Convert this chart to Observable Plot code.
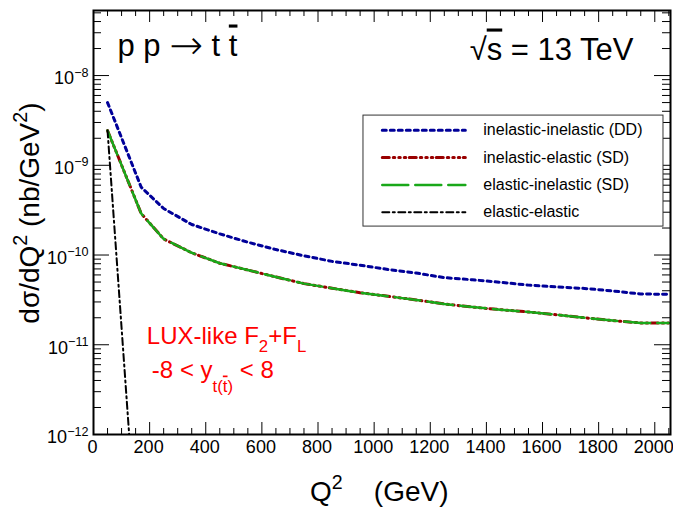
<!DOCTYPE html>
<html>
<head>
<meta charset="utf-8">
<script src="https://cdn.jsdelivr.net/npm/d3@7"></script>
<script src="https://cdn.jsdelivr.net/npm/@observablehq/plot@0.6"></script>
<style>
  body { margin: 0; background: #fff; }
  svg text, svg tspan { white-space: pre; }
</style>
</head>
<body>
<div id="chart"></div>
<script>
// Q^2 grid (GeV^2) of the calculated distributions
const q2 = [50, 170, 250, 350, 450, 550, 650, 750, 850, 950, 1050, 1150, 1250, 1350, 1450, 1550, 1650, 1750, 1850, 1950, 2050];
// dσ/dQ² in nb/GeV²
const inelasticInelastic = [5.0e-9, 5.7e-10, 3.3e-10, 2.19e-10, 1.72e-10, 1.39e-10, 1.15e-10, 9.8e-11, 8.5e-11, 7.7e-11, 6.9e-11, 6.3e-11, 5.6e-11, 5.3e-11, 4.97e-11, 4.62e-11, 4.41e-11, 4.24e-11, 3.98e-11, 3.68e-11, 3.65e-11];
const inelasticElastic = [2.44e-9, 2.9e-10, 1.51e-10, 1.06e-10, 8.1e-11, 6.8e-11, 5.7e-11, 4.8e-11, 4.27e-11, 3.8e-11, 3.47e-11, 3.16e-11, 2.85e-11, 2.63e-11, 2.46e-11, 2.32e-11, 2.16e-11, 2.0e-11, 1.86e-11, 1.75e-11, 1.75e-11];
const elasticInelastic = [2.44e-9, 2.9e-10, 1.51e-10, 1.06e-10, 8.1e-11, 6.8e-11, 5.7e-11, 4.8e-11, 4.27e-11, 3.8e-11, 3.47e-11, 3.16e-11, 2.85e-11, 2.63e-11, 2.46e-11, 2.32e-11, 2.16e-11, 2.0e-11, 1.86e-11, 1.75e-11, 1.75e-11];
const q2Elastic = [50, 170];
const elasticElastic = [2.44e-9, 1.3e-14];

const seriesNames = ["inelastic-inelastic (DD)", "inelastic-elastic (SD)", "elastic-inelastic (SD)", "elastic-elastic"];

// axis ticks
const xTicks = [0, 200, 400, 600, 800, 1000, 1200, 1400, 1600, 1800, 2000];
const xMinorTicks = d3.range(50, 2051, 50).filter(v => v % 200 !== 0);
const yTicks = [1e-12, 1e-11, 1e-10, 1e-9, 1e-8];
const yMinorTicks = [-12, -11, -10, -9, -8].flatMap(e => d3.range(2, 10).map(k => k * 10 ** e)).filter(v => v < 5.3e-8);

// line styles per series
const styles = [
  {stroke: "#000099", strokeWidth: 3, strokeDasharray: "4,4"},
  {stroke: "#990000", strokeWidth: 3, strokeDasharray: "7,4,1.5,4,1.5,4,1.5,3.5"},
  {stroke: "#19a819", strokeWidth: 2.5, strokeDasharray: "26,7"},
  {stroke: "#000000", strokeWidth: 2, strokeDasharray: "7,3.5,2,3.5"}
];

const curves = [
  q2.map((q, i) => ({q2: q, v: inelasticInelastic[i]})),
  q2.map((q, i) => ({q2: q, v: inelasticElastic[i]})),
  q2.map((q, i) => ({q2: q, v: elasticInelastic[i]})),
  q2Elastic.map((q, i) => ({q2: q, v: elasticElastic[i]}))
];

// legend placement, in plot coordinates
const legendBox = {x1: 962, x2: 2031, y1: 10 ** -9.683, y2: 10 ** -8.446};
const legendRowY = [10 ** -8.61, 10 ** -8.914, 10 ** -9.2185, 10 ** -9.524];
const legendSampleX = [1029, 1325];
const legendTextX = 1389;

const W = 673, H = 508, ML = 93, MR = 3, MT = 10, MB = 74;
const FW = W - ML - MR, FH = H - MT - MB;

const marks = [
  // curves
  ...curves.map((c, i) => Plot.line(c, {x: "q2", y: "v", ...styles[i], clip: true})),
  // inward ticks on all four sides
  Plot.tickX(xTicks, {x: d => d, insetTop: FH - 12, stroke: "black"}),
  Plot.tickX(xMinorTicks, {x: d => d, insetTop: FH - 6, stroke: "black"}),
  Plot.tickX(xTicks, {x: d => d, insetBottom: FH - 12, stroke: "black"}),
  Plot.tickX(xMinorTicks, {x: d => d, insetBottom: FH - 6, stroke: "black"}),
  Plot.tickY(yTicks, {y: d => d, insetRight: FW - 16, stroke: "black"}),
  Plot.tickY(yMinorTicks, {y: d => d, insetRight: FW - 8, stroke: "black"}),
  Plot.tickY(yTicks, {y: d => d, insetLeft: FW - 16, stroke: "black"}),
  Plot.tickY(yMinorTicks, {y: d => d, insetLeft: FW - 8, stroke: "black"}),
  Plot.axisX({ticks: xTicks, tickSize: 0, tickPadding: 6, dx: -1, fontSize: 18, tickFormat: d => String(d), label: null, fill: "black"}),
  Plot.axisY({ticks: yTicks, tickSize: 0, tickPadding: 5, dy: 3, fontSize: 18, tickFormat: d => `10^{\u2212${-Math.round(Math.log10(d))}}`, label: null, fill: "black"}),
  Plot.frame({stroke: "black", strokeWidth: 2}),
  // legend
  Plot.rect([legendBox], {x1: "x1", x2: "x2", y1: "y1", y2: "y2", fill: "white", stroke: "#333", strokeWidth: 1}),
  ...seriesNames.map((name, i) => Plot.line(legendSampleX.map(x => ({x, y: legendRowY[i]})), {x: "x", y: "y", ...styles[i]})),
  Plot.text(seriesNames, {x: legendTextX, y: (d, i) => legendRowY[i], text: d => d, textAnchor: "start", lineAnchor: "middle", fontSize: 16, fill: "black"}),
  // annotations
  Plot.text(["p p \\to t \\bar{t}"], {frameAnchor: "top-left", dx: 24, dy: 45, textAnchor: "start", lineAnchor: "bottom", fontSize: 31, fill: "black"}),
  Plot.text(["\u221A\\bar{s} = 13 TeV"], {frameAnchor: "top-right", dx: -37, dy: 49, textAnchor: "end", lineAnchor: "bottom", fontSize: 31, fill: "black"}),
  Plot.text(["LUX-like F_{2}+F_{L}"], {x: 190, y: 10 ** -10.991, textAnchor: "start", lineAnchor: "bottom", fontSize: 24, fill: "#ff0000"}),
  Plot.text(["-8 < y_{t(\\bar{t})} < 8"], {x: 208, y: 10 ** -11.374, textAnchor: "start", lineAnchor: "bottom", fontSize: 24, fill: "#ff0000"}),
  // axis titles
  Plot.text(["Q^{2}    (GeV)"], {frameAnchor: "bottom-left", dx: 355, dy: 66, textAnchor: "end", lineAnchor: "bottom", fontSize: 28, fill: "black"}),
  Plot.text(["d\u03C3/dQ^{2} (nb/GeV^{2})"], {frameAnchor: "top-left", dx: -55, dy: 92, rotate: -90, textAnchor: "end", lineAnchor: "bottom", fontSize: 28, fill: "black"})
];

const svg = Plot.plot({
  width: W, height: H,
  marginLeft: ML, marginRight: MR, marginTop: MT, marginBottom: MB,
  style: {fontFamily: "'Liberation Sans', Arial, Helvetica, sans-serif", background: "white", overflow: "visible"},
  x: {domain: [0, 2056]},
  y: {type: "log", domain: [1e-12, 10 ** -7.275]},
  marks
});
document.getElementById("chart").appendChild(svg);

// Turn ^{..}, _{..}, \bar{..} and \to markup into tspans
function matchBrace(s, open) {
  let depth = 0;
  for (let j = open; j < s.length; j++) {
    if (s[j] === "{") depth++;
    else if (s[j] === "}" && --depth === 0) return j;
  }
  return s.length;
}
function parseMarkup(s, shift = 0, scale = 1, over = false, out = []) {
  let buf = "";
  const flush = () => { if (buf) out.push({text: buf, shift, scale, over}); buf = ""; };
  let i = 0;
  while (i < s.length) {
    if ((s[i] === "^" || s[i] === "_") && s[i + 1] === "{") {
      const j = matchBrace(s, i + 1);
      const prev = buf.slice(-1) || (out.length ? out[out.length - 1].text.slice(-1) : "");
      flush();
      const sh = s[i] === "^" ? -0.42 : (/[gjpqy]/.test(prev) ? 0.55 : 0.33);
      parseMarkup(s.slice(i + 2, j), shift + sh * scale, scale * 0.7, over, out);
      i = j + 1;
    } else if (s.startsWith("\\bar{", i)) {
      const j = matchBrace(s, i + 4);
      flush();
      parseMarkup(s.slice(i + 5, j), shift, scale, true, out);
      i = j + 1;
    } else if (s.startsWith("\\to", i)) {
      flush();
      out.push({text: "\u2192", shift: shift + 0.12 * scale, scale: scale * 1.3, over, font: "'DejaVu Sans', sans-serif", weight: 200});
      i += 3;
    } else {
      buf += s[i++];
    }
  }
  flush();
  return out;
}
svg.querySelectorAll("text").forEach(t => {
  const s = t.textContent;
  if (!/[\^_]\{|\\bar\{|\\to/.test(s)) return;
  const fs = parseFloat(getComputedStyle(t).fontSize);
  const segs = parseMarkup(s);
  t.textContent = "";
  let cur = 0;
  for (const seg of segs) {
    const ts = document.createElementNS("http://www.w3.org/2000/svg", "tspan");
    const target = seg.shift * fs;
    if (target !== cur) ts.setAttribute("dy", target - cur);
    cur = target;
    if (seg.scale !== 1) ts.setAttribute("font-size", seg.scale * fs);
    if (seg.font) ts.setAttribute("font-family", seg.font);
    if (seg.weight) ts.setAttribute("font-weight", seg.weight);
    if (seg.over) ts.setAttribute("text-decoration", "overline");
    ts.textContent = seg.text;
    t.appendChild(ts);
  }
});
</script>
</body>
</html>
